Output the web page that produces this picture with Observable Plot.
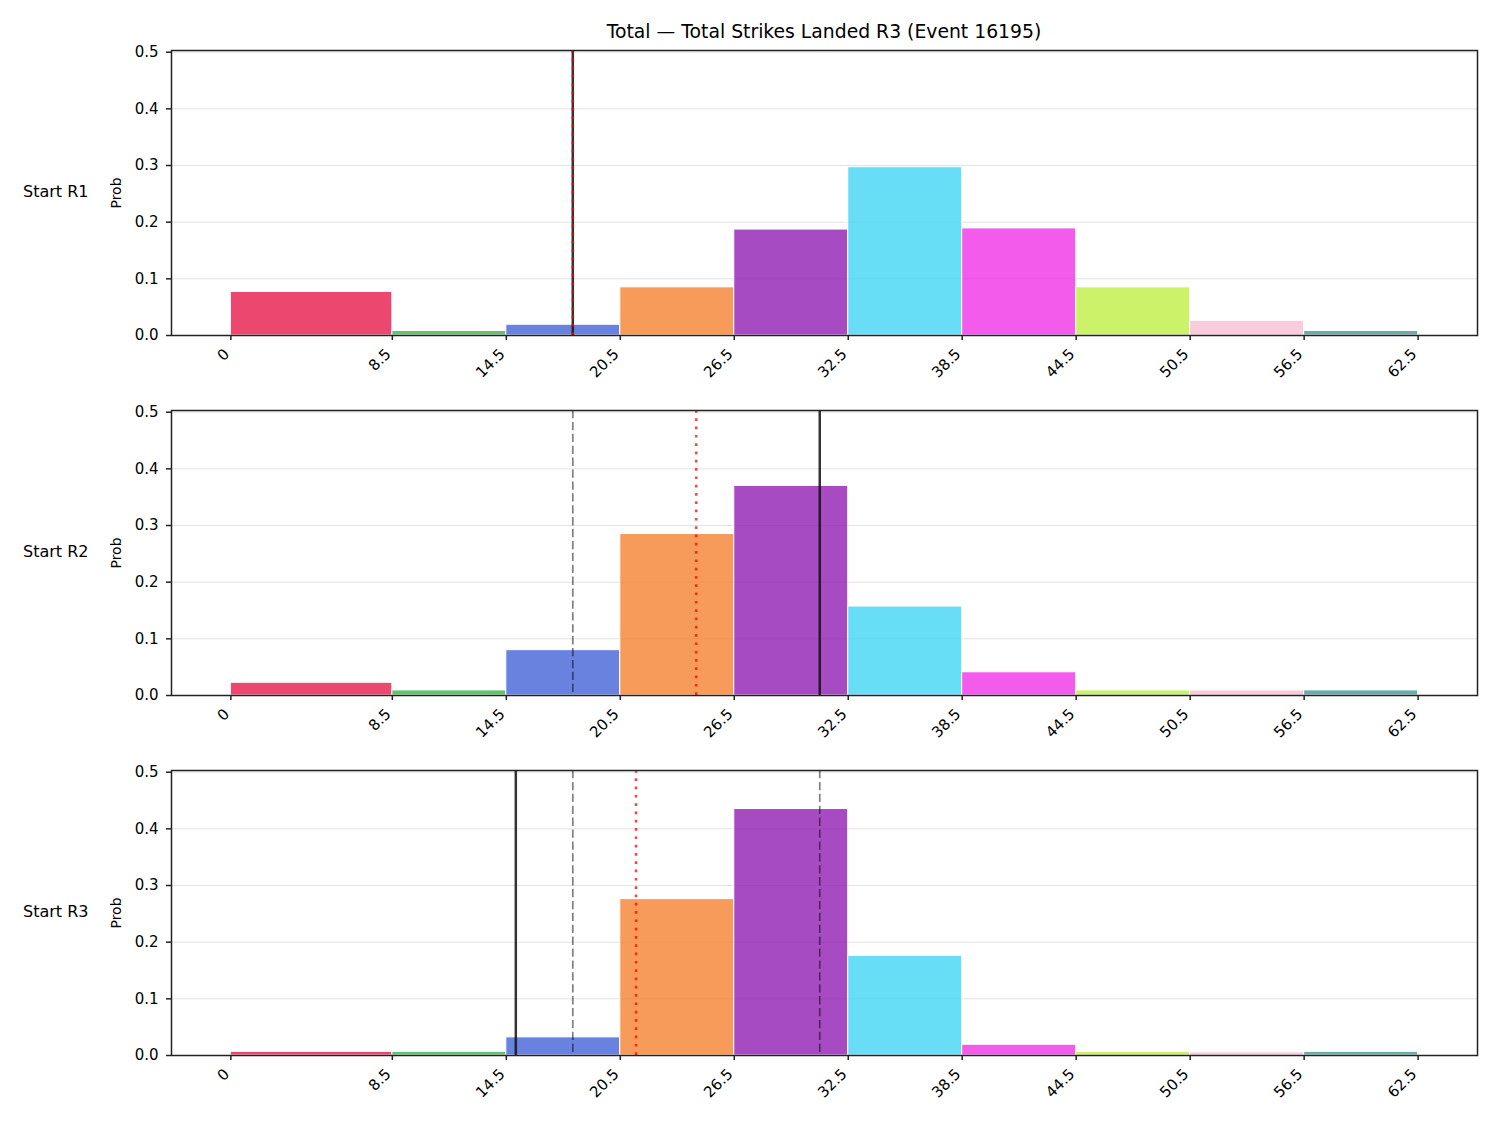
<!DOCTYPE html>
<html>
<head>
<meta charset="utf-8">
<script src="https://cdn.jsdelivr.net/npm/d3@7"></script>
<script src="https://cdn.jsdelivr.net/npm/@observablehq/plot@0.6"></script>
<style>
  html, body { margin: 0; padding: 0; background: #fff; }
  #root { position: relative; width: 1500px; height: 1125px; font-family: "DejaVu Sans", sans-serif; color: #000; }
  .title { position: absolute; left: 171px; width: 1306px; top: 20px; text-align: center; font-size: 18.8px; line-height: 24px; }
  .rowlab { position: absolute; left: 23px; font-size: 16px; line-height: 20px; }
  .ylab { position: absolute; left: 116px; font-size: 14px; line-height: 16px; white-space: nowrap; transform: translate(-50%, -50%) rotate(-90deg); }
  .panel { position: absolute; left: 0; }
</style>
</head>
<body>
<div id="root"></div>
<script>
// ---- data ----
const titleText = "Total — Total Strikes Landed R3 (Event 16195)";
const binEdges = [0, 8.5, 14.5, 20.5, 26.5, 32.5, 38.5, 44.5, 50.5, 56.5, 62.5];
const tickLabels = ["0", "8.5", "14.5", "20.5", "26.5", "32.5", "38.5", "44.5", "50.5", "56.5", "62.5"];
const binColors = ["#e6194b", "#3cb44b", "#4363d8", "#f58231", "#911eb4", "#42d4f4", "#f032e6", "#bfef45", "#fabed4", "#469990"];
const rowLabels = ["Start R1", "Start R2", "Start R3"];
const yLabel = "Prob";
const probR1 = [0.077, 0.008, 0.019, 0.085, 0.187, 0.297, 0.189, 0.085, 0.026, 0.008];
const probR2 = [0.0225, 0.009, 0.080, 0.285, 0.370, 0.157, 0.041, 0.009, 0.009, 0.009];
const probR3 = [0.0065, 0.0065, 0.032, 0.276, 0.435, 0.176, 0.019, 0.0065, 0.0055, 0.0065];
const solidLine = [18.0, 31.0, 15.0];
const dottedLine = [18.0, 24.5, 21.33];
const dashedLines = [[], [18.0], [18.0, 31.0]];
const yTicks = [0, 0.1, 0.2, 0.3, 0.4, 0.5];

const probs = [probR1, probR2, probR3];
const root = document.getElementById("root");

const t = document.createElement("div");
t.className = "title";
t.textContent = titleText;
root.appendChild(t);

probs.forEach((p, i) => {
  const bars = p.map((v, k) => ({x1: binEdges[k], x2: binEdges[k + 1], y: v, c: binColors[k]}));
  const top = 50 + 360 * i;
  const chart = Plot.plot({
    width: 1500,
    height: 360,
    marginLeft: 171,
    marginRight: 23,
    marginTop: 10,
    marginBottom: 65,
    style: {fontFamily: "DejaVu Sans, sans-serif", fontSize: "15px", color: "#000", background: "transparent", overflow: "visible"},
    x: {domain: [-3.125, 65.625]},
    y: {domain: [0, 0.503]},
    color: {type: "identity"},
    marks: [
      Plot.gridY(yTicks, {stroke: "#e3e3e3", strokeOpacity: 1, strokeWidth: 1}),
      Plot.rectY(bars, {x1: "x1", x2: "x2", y: "y", fill: "c", fillOpacity: 0.8, stroke: "white", strokeWidth: 1}),
      Plot.ruleX(dashedLines[i], {stroke: "black", strokeOpacity: 0.5, strokeWidth: 1.7, strokeDasharray: "8.3,3.6"}),
      Plot.ruleX([solidLine[i]], {stroke: "#111", strokeOpacity: 0.85, strokeWidth: 2.5}),
      Plot.ruleX([dottedLine[i]], {stroke: "red", strokeOpacity: 0.75, strokeWidth: 2.5, strokeDasharray: "2.7,5.6"}),
      Plot.frame({stroke: "#222", strokeWidth: 1.5}),
      Plot.axisY(yTicks, {tickFormat: d => d.toFixed(1), tickSize: 5, tickPadding: 8, stroke: "#222", strokeWidth: 1.5,
        label: null, fontSize: 15}),
      // tick marks only
      Plot.axisX(binEdges, {tickFormat: () => "", tickSize: 5, stroke: "#222", strokeWidth: 1.5, label: null}),
      // rotated labels only
      Plot.axisX(binEdges, {tickFormat: d => tickLabels[binEdges.indexOf(d)], tickSize: 0, tickPadding: 9, tickRotate: -45,
        dx: -4, dy: 7, label: null, fontSize: 15})
    ]
  });
  chart.classList.add("panel");
  chart.style.top = (top - 10) + "px";
  root.appendChild(chart);

  const rl = document.createElement("div");
  rl.className = "rowlab";
  rl.style.top = (top + 132) + "px";
  rl.textContent = rowLabels[i];
  root.appendChild(rl);

  const yl = document.createElement("div");
  yl.className = "ylab";
  yl.style.top = (top + 143) + "px";
  yl.textContent = yLabel;
  root.appendChild(yl);
});
</script>
</body>
</html>
